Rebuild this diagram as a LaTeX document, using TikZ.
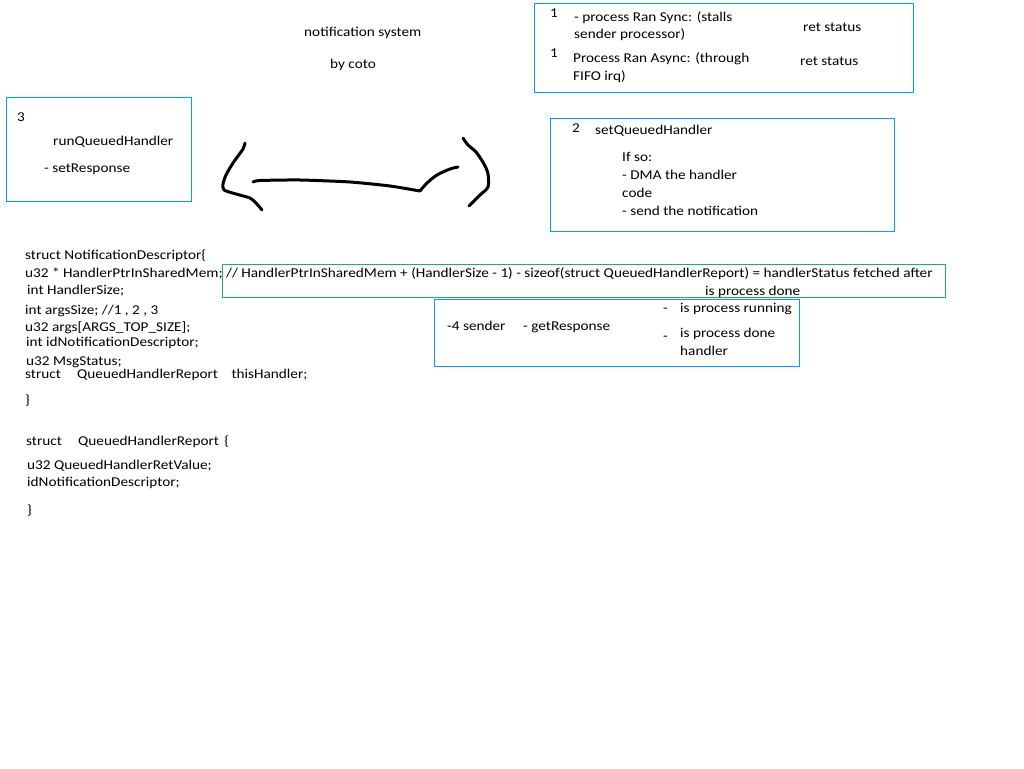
\documentclass[tikz,border=0pt]{standalone}
\usepackage{fontspec}
\setmainfont{Carlito}[FakeStretch=1.13]
\definecolor{boxblue}{RGB}{0,162,232}
\definecolor{boxgreen}{RGB}{34,177,76}
\begin{document}
\begin{tikzpicture}[x=1pt,y=-1pt,
  txt/.style={anchor=base west,inner sep=0pt,font=\fontsize{13.5}{16}\selectfont},
  bluebox/.style={draw=boxblue,line width=1pt},
  greenbox/.style={draw=boxgreen,line width=1pt},
  stroke/.style={line width=3pt,line cap=round,line join=round}]
\useasboundingbox[fill=white] (0,0) rectangle (1024,768);

% title
\node[txt] (title) at (304,37) {notification system};
\node[txt] (author) at (330,68) {by coto};

% box 1: sync / async processing
\draw[bluebox] (534,4) rectangle (913,92);
\node[txt] (n1a) at (550,18) {1};
\node[txt] (sync1) at (574,22) {- process Ran Sync: (stalls};
\node[txt] (sync2) at (574,39) {sender processor)};
\node[txt] (ret1) at (803,32) {ret status};
\node[txt] (n1b) at (550,57) {1};
\node[txt] (async1) at (573,63) {Process Ran Async: (through};
\node[txt] (async2) at (573,81) {FIFO irq)};
\node[txt] (ret2) at (800,66) {ret status};

% box 3: receiver side
\draw[bluebox] (6,97) rectangle (191,201);
\node[txt] (n3) at (17,121) {3};
\node[txt] (runq) at (53,145) {runQueuedHandler};
\node[txt] (setr) at (44,172) {- setResponse};

% box 2: handler setup
\draw[bluebox] (550,118) rectangle (894,231);
\node[txt] (n2) at (572,132) {2};
\node[txt] (setq) at (595,134) {setQueuedHandler};
\node[txt] (ifso) at (622,161) {If so:};
\node[txt] (dma1) at (622,179) {- DMA the handler};
\node[txt] (dma2) at (622,197) {code};
\node[txt] (send) at (622,215) {- send the notification};

% hand-drawn double arrow between the boxes
\draw[stroke] plot[smooth,tension=0.4] coordinates
  {(245,143) (243,149) (233,163) (226,175) (223,184) (224,190) (236,194) (250,198) (256,203) (262,210)};
\draw[stroke] plot[smooth,tension=0.4] coordinates
  {(253,182) (260,180.5) (300,180) (350,182) (390,186) (420,191)};
\draw[stroke] plot[smooth,tension=0.5] coordinates
  {(420,191) (427,183) (437,175) (450,169) (458,167)};
\draw[stroke] plot[smooth,tension=0.5] coordinates
  {(463,138) (468,145) (476,152) (484,164) (488,174) (488,187) (480,195) (469,206)};

% struct NotificationDescriptor
\node[txt] (s1) at (25,259) {struct NotificationDescriptor\{};
\node[txt] (s2) at (25,277) {u32 * HandlerPtrInSharedMem;};
\node[txt] (s3) at (27,294) {int HandlerSize;};
\node[txt] (s4) at (25,314) {int argsSize; //1 , 2 , 3};
\node[txt] (s5) at (25,331) {u32 args[ARGS\_TOP\_SIZE];};
\node[txt] (s6) at (26,346) {int idNotificationDescriptor;};
\node[txt] (s7) at (26,365) {u32 MsgStatus;};
\node[txt] (s8) at (25,378) {struct\hspace{1.2em}QueuedHandlerReport\hspace{1em}thisHandler;};
\node[txt] (s9) at (25,404) {\}};

% struct QueuedHandlerReport
\node[txt] (r1) at (26,445) {struct\hspace{1.2em}QueuedHandlerReport\hspace{0.4em}\{};
\node[txt] (r2) at (27,469) {u32 QueuedHandlerRetValue;};
\node[txt] (r3) at (27,486) {idNotificationDescriptor;};
\node[txt] (r4) at (27,514) {\}};

% status comment
\draw[greenbox] (222,264) rectangle (945,297);
\node[txt] (c1) at (226,277) {// HandlerPtrInSharedMem + (HandlerSize - 1) - sizeof(struct QueuedHandlerReport) = handlerStatus fetched after};
\node[txt] (c2) at (705,295) {is process done};

% box 4: sender side
\draw[bluebox] (434,299) rectangle (799,366);
\node[txt] (n4) at (447,330) {-4 sender};
\node[txt] (getr) at (523,330) {- getResponse};
\node[txt] (d1) at (663,312) {-};
\node[txt] (run) at (680,312) {is process running};
\node[txt] (d2) at (663,340) {-};
\node[txt] (done1) at (680,337) {is process done};
\node[txt] (done2) at (680,355) {handler};
\end{tikzpicture}
\end{document}
